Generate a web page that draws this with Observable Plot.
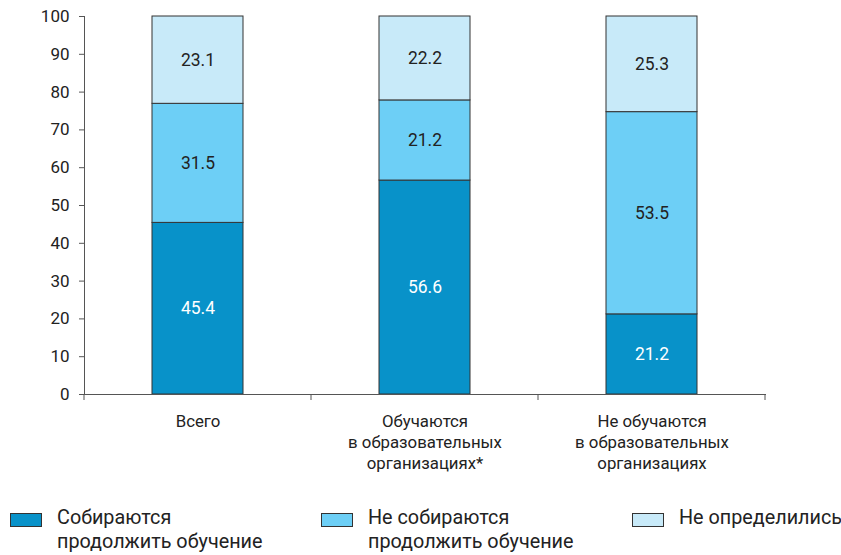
<!DOCTYPE html>
<html>
<head>
<meta charset="utf-8">
<script src="https://cdn.jsdelivr.net/npm/d3@7"></script>
<script src="https://cdn.jsdelivr.net/npm/@observablehq/plot@0.6"></script>
<style>
  html, body { margin: 0; padding: 0; background: #fff; }
  #wrap { position: relative; width: 841px; height: 555px; overflow: hidden; }
  .lg-item { position: absolute; top: 513px; display: flex; align-items: flex-start; }
  .lg-sw { width: 30px; height: 12px; border: 1px solid #333; margin-top: 0px; }
  .lg-tx { position: absolute; top: -7px; font-family: Roboto, "Noto Sans", sans-serif; font-size: 19.8px; line-height: 24px; color: #222; white-space: pre; }
</style>
</head>
<body>
<div id="wrap"></div>
<script>
const categories = ["Всего", "Обучаются в образовательных организациях*", "Не обучаются в образовательных организациях"];
const categoryLabels = ["Всего", "Обучаются\nв образовательных\nорганизациях*", "Не обучаются\nв образовательных\nорганизациях"];
const series = ["Собираются продолжить обучение", "Не собираются продолжить обучение", "Не определились"];
const seriesLabels = ["Собираются\nпродолжить обучение", "Не собираются\nпродолжить обучение", "Не определились"];
const valuesGoing = [45.4, 56.6, 21.2];
const valuesNotGoing = [31.5, 21.2, 53.5];
const valuesUndecided = [23.1, 22.2, 25.3];
const colors = ["#0892c9", "#6dcff6", "#c8eaf9"];
const yTicks = [0, 10, 20, 30, 40, 50, 60, 70, 80, 90, 100];

const seriesValues = [valuesGoing, valuesNotGoing, valuesUndecided];
const data = [];
categories.forEach((c, i) => {
  let base = 0;
  series.forEach((s, j) => {
    const v = seriesValues[j][i];
    data.push({cat: c, series: s, value: v, mid: base + v / 2, dark: j === 0});
    base += v;
  });
});

const W = 841, ML = 84, MR = 76;
const chart = Plot.plot({
  width: W,
  height: 480,
  marginTop: 16,
  marginBottom: 86,
  marginLeft: ML,
  marginRight: MR,
  style: {background: "transparent", color: "#222"},
  x: {domain: categories, paddingInner: 0.6, paddingOuter: 0.3, label: null},
  y: {domain: [0, 100], label: null},
  color: {domain: series, range: colors},
  marks: [
    Plot.barY(data, Plot.stackY({x: "cat", y: "value", z: "series", fill: "series", order: series, stroke: "#333", strokeWidth: 1})),
    Plot.text(data, {x: "cat", y: "mid", text: d => d.value.toFixed(1), fill: d => d.dark ? "#fff" : "#222",
      fontFamily: "'Liberation Sans Narrow', 'Arial Narrow', Roboto, sans-serif", fontSize: 17.5}),
    Plot.frame({anchor: "left", stroke: "#555"}),
    Plot.frame({anchor: "bottom", stroke: "#555"}),
    Plot.axisY({ticks: yTicks, tickSize: 5, tickPadding: 10, stroke: "#555", fill: "#222",
      fontFamily: "'Liberation Sans Narrow', 'Arial Narrow', Roboto, sans-serif", fontSize: 17, label: null}),
    Plot.axisX({tickSize: 0, tickPadding: 18, tickFormat: d => categoryLabels[categories.indexOf(d)],
      fontFamily: "Roboto, 'Noto Sans', sans-serif", fontSize: 16.8, lineHeight: 1.25, fill: "#222", label: null}),
    (index, scales, values, dims) => {
      const g = d3.create("svg:g").attr("stroke", "#555");
      const step = (dims.width - dims.marginLeft - dims.marginRight) / categories.length;
      const y0 = dims.height - dims.marginBottom;
      for (let i = 0; i <= categories.length; i++) {
        const x = dims.marginLeft + i * step;
        g.append("line").attr("x1", x).attr("x2", x).attr("y1", y0).attr("y2", y0 + 6);
      }
      return g.node();
    }
  ]
});
const wrap = document.getElementById("wrap");
wrap.appendChild(chart);

const color = chart.scale("color");
const legendX = [10, 321, 632];
series.forEach((s, i) => {
  const item = document.createElement("div");
  item.className = "lg-item";
  item.style.left = legendX[i] + "px";
  const sw = document.createElement("div");
  sw.className = "lg-sw";
  sw.style.background = colors[color.domain.indexOf(s)];
  const tx = document.createElement("div");
  tx.className = "lg-tx";
  tx.style.left = "47px";
  tx.textContent = seriesLabels[i];
  item.appendChild(sw);
  item.appendChild(tx);
  wrap.appendChild(item);
});
</script>
</body>
</html>
